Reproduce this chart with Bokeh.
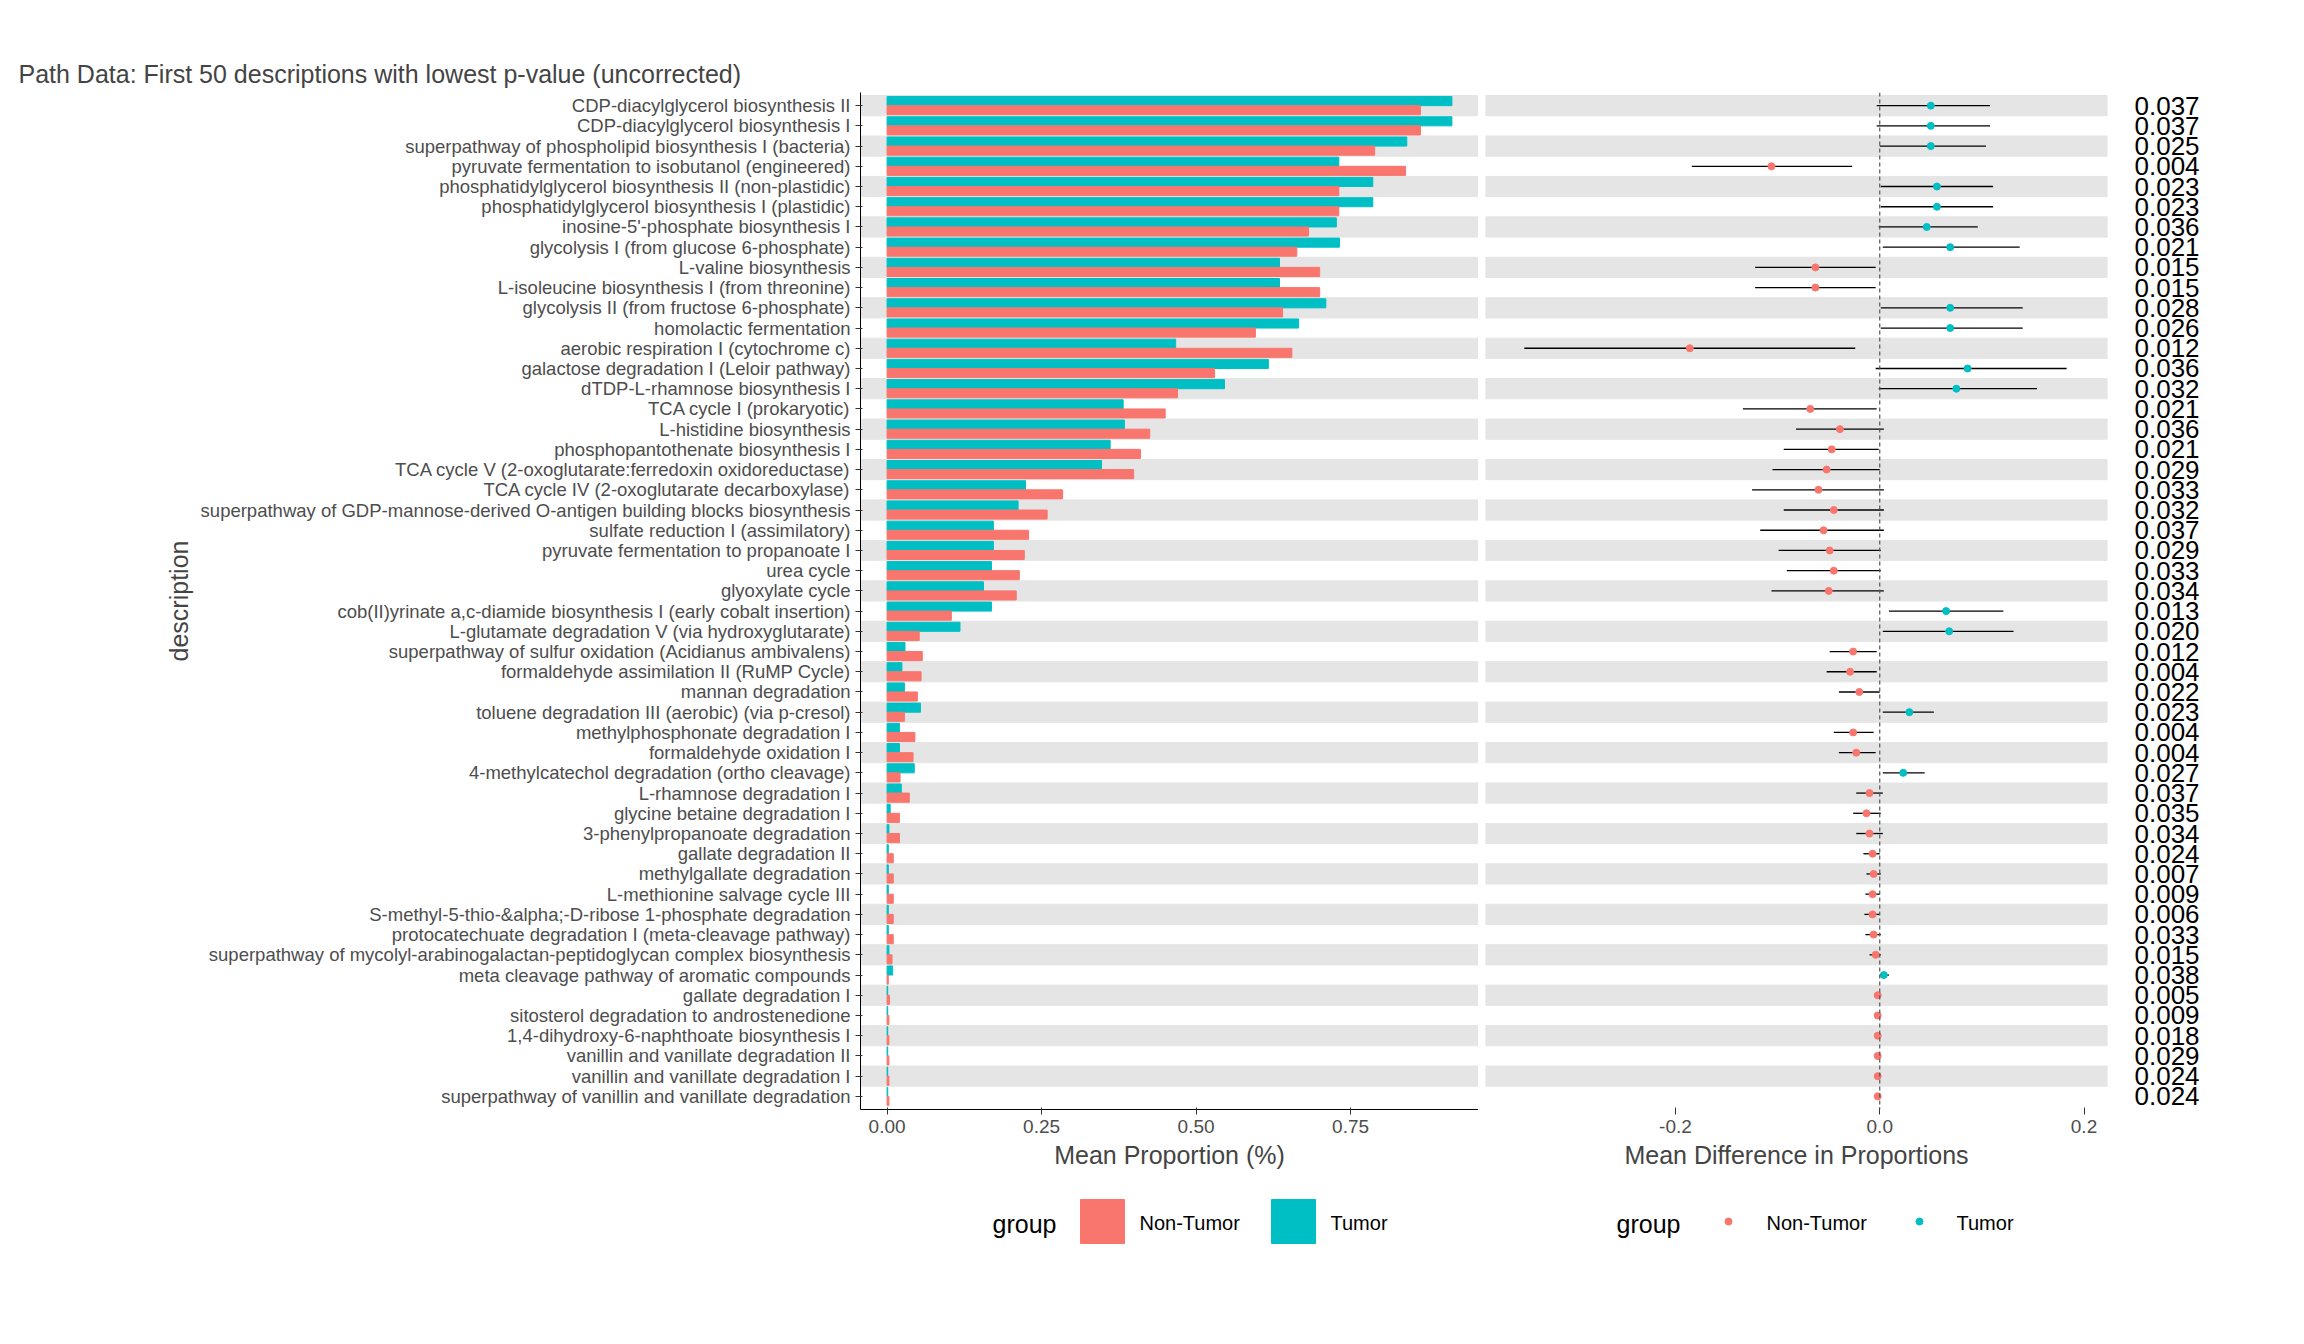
from bokeh.plotting import figure
from bokeh.models import FixedTicker, LinearAxis, Range1d, Span
from bokeh.layouts import column, row
from bokeh.embed import file_html
from bokeh.resources import INLINE

descriptions = [
    "CDP-diacylglycerol biosynthesis II", "CDP-diacylglycerol biosynthesis I",
    "superpathway of phospholipid biosynthesis I (bacteria)", "pyruvate fermentation to isobutanol (engineered)",
    "phosphatidylglycerol biosynthesis II (non-plastidic)", "phosphatidylglycerol biosynthesis I (plastidic)",
    "inosine-5'-phosphate biosynthesis I", "glycolysis I (from glucose 6-phosphate)",
    "L-valine biosynthesis", "L-isoleucine biosynthesis I (from threonine)",
    "glycolysis II (from fructose 6-phosphate)", "homolactic fermentation",
    "aerobic respiration I (cytochrome c)", "galactose degradation I (Leloir pathway)",
    "dTDP-L-rhamnose biosynthesis I", "TCA cycle I (prokaryotic)",
    "L-histidine biosynthesis", "phosphopantothenate biosynthesis I",
    "TCA cycle V (2-oxoglutarate:ferredoxin oxidoreductase)", "TCA cycle IV (2-oxoglutarate decarboxylase)",
    "superpathway of GDP-mannose-derived O-antigen building blocks biosynthesis", "sulfate reduction I (assimilatory)",
    "pyruvate fermentation to propanoate I", "urea cycle", "glyoxylate cycle",
    "cob(II)yrinate a,c-diamide biosynthesis I (early cobalt insertion)",
    "L-glutamate degradation V (via hydroxyglutarate)", "superpathway of sulfur oxidation (Acidianus ambivalens)",
    "formaldehyde assimilation II (RuMP Cycle)", "mannan degradation",
    "toluene degradation III (aerobic) (via p-cresol)", "methylphosphonate degradation I",
    "formaldehyde oxidation I", "4-methylcatechol degradation (ortho cleavage)",
    "L-rhamnose degradation I", "glycine betaine degradation I", "3-phenylpropanoate degradation",
    "gallate degradation II", "methylgallate degradation", "L-methionine salvage cycle III",
    "S-methyl-5-thio-&alpha;-D-ribose 1-phosphate degradation",
    "protocatechuate degradation I (meta-cleavage pathway)",
    "superpathway of mycolyl-arabinogalactan-peptidoglycan complex biosynthesis",
    "meta cleavage pathway of aromatic compounds", "gallate degradation I",
    "sitosterol degradation to androstenedione", "1,4-dihydroxy-6-naphthoate biosynthesis I",
    "vanillin and vanillate degradation II", "vanillin and vanillate degradation I",
    "superpathway of vanillin and vanillate degradation",
]
tumor = [0.914, 0.914, 0.841, 0.731, 0.786, 0.786, 0.727, 0.732, 0.635, 0.635,
         0.710, 0.666, 0.467, 0.617, 0.546, 0.382, 0.384, 0.361, 0.347, 0.224,
         0.212, 0.172, 0.172, 0.169, 0.156, 0.169, 0.118, 0.029, 0.024, 0.028,
         0.054, 0.020, 0.020, 0.044, 0.023, 0.005, 0.003, 0.002, 0.002, 0.002,
         0.002, 0.002, 0.003, 0.009, 0.001, 0.001, 0.001, 0.001, 0.001, 0.001]
non_tumor = [0.863, 0.863, 0.789, 0.839, 0.731, 0.731, 0.682, 0.663, 0.700, 0.700,
             0.640, 0.596, 0.655, 0.530, 0.470, 0.450, 0.425, 0.410, 0.399, 0.284,
             0.259, 0.229, 0.222, 0.214, 0.209, 0.104, 0.052, 0.057, 0.055, 0.049,
             0.028, 0.045, 0.042, 0.021, 0.036, 0.020, 0.020, 0.010, 0.010, 0.010,
             0.010, 0.010, 0.008, 0.002, 0.004, 0.003, 0.003, 0.003, 0.003, 0.003]
diff = [0.050, 0.050, 0.050, -0.106, 0.056, 0.056, 0.046, 0.069, -0.063, -0.063,
        0.069, 0.069, -0.186, 0.086, 0.075, -0.068, -0.039, -0.047, -0.052, -0.060,
        -0.045, -0.055, -0.049, -0.045, -0.050, 0.065, 0.068, -0.026, -0.029, -0.020,
        0.029, -0.026, -0.023, 0.023, -0.010, -0.013, -0.010, -0.007, -0.006, -0.007,
        -0.007, -0.006, -0.004, 0.004, -0.002, -0.002, -0.002, -0.002, -0.002, -0.002]
ci_low = [-0.003, -0.003, 0.000, -0.184, 0.001, 0.001, -0.001, 0.003, -0.122, -0.122,
          0.001, 0.001, -0.348, -0.004, -0.001, -0.134, -0.082, -0.094, -0.105, -0.125,
          -0.094, -0.117, -0.099, -0.091, -0.106, 0.009, 0.003, -0.049, -0.052, -0.040,
          0.003, -0.045, -0.040, 0.003, -0.023, -0.026, -0.023, -0.016, -0.013, -0.014,
          -0.015, -0.014, -0.010, 0.001, -0.004, -0.004, -0.004, -0.004, -0.004, -0.004]
ci_high = [0.108, 0.108, 0.104, -0.027, 0.111, 0.111, 0.096, 0.137, -0.004, -0.004,
           0.140, 0.140, -0.024, 0.183, 0.154, -0.003, 0.004, -0.001, 0.000, 0.004,
           0.004, 0.004, 0.001, 0.001, 0.004, 0.121, 0.131, -0.003, -0.003, 0.000,
           0.053, -0.006, -0.004, 0.044, 0.003, 0.001, 0.003, 0.000, 0.001, 0.000,
           0.000, 0.001, 0.001, 0.009, 0.000, 0.000, 0.000, 0.000, 0.000, 0.000]
p_values = ["0.037", "0.037", "0.025", "0.004", "0.023", "0.023", "0.036", "0.021", "0.015", "0.015",
            "0.028", "0.026", "0.012", "0.036", "0.032", "0.021", "0.036", "0.021", "0.029", "0.033",
            "0.032", "0.037", "0.029", "0.033", "0.034", "0.013", "0.020", "0.012", "0.004", "0.022",
            "0.023", "0.004", "0.004", "0.027", "0.037", "0.035", "0.034", "0.024", "0.007", "0.009",
            "0.006", "0.033", "0.015", "0.038", "0.005", "0.009", "0.018", "0.029", "0.024", "0.024"]

RED, TEAL = "#F8766D", "#00BFC4"
FONT = "Liberation Sans"
n = len(descriptions)
ys = [n - i for i in range(n)]
stripe_y = [y for i, y in enumerate(ys) if i % 2 == 0]
labels = {y: d.replace("&alpha;", "&alpha;") for y, d in zip(ys, descriptions)}
pv_labels = {y: p for y, p in zip(ys, p_values)}
FH = 1017


def style_axes(p):
    for ax in p.axis:
        ax.axis_line_color = "black"
        ax.major_tick_line_color = "#333333"
        ax.minor_tick_line_color = None
        ax.major_label_text_color = "#4D4D4D"
        ax.major_label_text_font = FONT
        ax.major_label_text_font_size = "19px"
        ax.axis_label_text_font = FONT
        ax.axis_label_text_font_size = "25px"
        ax.axis_label_text_font_style = "normal"
        ax.major_tick_out = 5
    p.xgrid.visible = False
    p.ygrid.visible = False
    p.outline_line_color = None


left = figure(frame_width=618, frame_height=FH, output_backend="svg", toolbar_location=None,
              x_range=Range1d(-0.043, 0.957), y_range=Range1d(0.35, n + 0.65),
              min_border_left=860, min_border_right=0, min_border_top=92, min_border_bottom=10,
              x_axis_label="Mean Proportion (%)", y_axis_label="description",
              title="Path Data: First 50 descriptions with lowest p-value (uncorrected)")
left.title.text_font = FONT
left.title.text_font_size = "25px"
left.title.text_font_style = "normal"
left.title.offset = -842
left.hbar(y=stripe_y, left=-0.043, right=0.957, height=1, color="#E5E5E5")
left.hbar(y=[y + 0.225 for y in ys], left=0, right=tumor, height=0.45, color=TEAL)
left.hbar(y=[y - 0.225 for y in ys], left=0, right=non_tumor, height=0.45, color=RED)
left.xaxis.ticker = FixedTicker(ticks=[0, 0.25, 0.5, 0.75])
left.xaxis.major_label_overrides = {0: "0.00", 0.25: "0.25", 0.5: "0.50", 0.75: "0.75"}
left.yaxis.ticker = FixedTicker(ticks=ys)
left.yaxis.major_label_overrides = labels
style_axes(left)
left.yaxis.major_label_text_font_size = "18.5px"

right = figure(frame_width=622, frame_height=FH, output_backend="svg", toolbar_location=None,
               x_range=Range1d(-0.386, 0.223), y_range=Range1d(0.35, n + 0.65),
               min_border_left=7, min_border_right=40, min_border_top=92, min_border_bottom=10,
               x_axis_label="Mean Difference in Proportions", y_axis_location=None)
right.hbar(y=stripe_y, left=-0.386, right=0.223, height=1, color="#E5E5E5")
right.add_layout(Span(location=0, dimension="height", line_color="#555555", line_dash="4 3", line_width=1.2))
colors = [TEAL if d > 0 else RED for d in diff]
right.segment(x0=ci_low, y0=ys, x1=ci_high, y1=ys, line_color="black", line_width=1.3)
right.scatter(x=diff, y=ys, size=7, color=colors)
right.xaxis.ticker = FixedTicker(ticks=[-0.2, 0, 0.2])
right.xaxis.major_label_overrides = {-0.2: "-0.2", 0: "0.0", 0.2: "0.2"}
pax = LinearAxis(ticker=FixedTicker(ticks=ys), major_label_overrides=pv_labels)
right.add_layout(pax, "right")
style_axes(right)
right.xaxis.axis_line_color = None
pax.axis_line_color = None
pax.major_tick_line_color = None
pax.major_label_text_color = "black"
pax.major_label_text_font_size = "26px"
pax.major_label_standoff = 22

leg = figure(width=2288, height=100, output_backend="svg", toolbar_location=None,
             x_range=Range1d(0, 2288), y_range=Range1d(0, 100), min_border=0)
leg.axis.visible = False
leg.grid.visible = False
leg.outline_line_color = None
leg.text(x=[992, 1616], y=[48, 48], text=["group", "group"], text_font_size="25px",
         text_baseline="middle", text_font=FONT_VAL if False else None) if False else None
from bokeh.core.properties import value
leg.text(x=[992, 1616], y=[48, 48], text=["group", "group"], text_font_size="25px",
         text_baseline="middle", text_font=value(FONT))
leg.rect(x=[1102, 1293], y=[50, 50], width=44, height=44, color=[RED, TEAL])
leg.scatter(x=[1728, 1919], y=[50, 50], size=7, color=[RED, TEAL])
leg.text(x=[1139, 1330, 1766, 1956], y=[49, 49, 49, 49], text=["Non-Tumor", "Tumor", "Non-Tumor", "Tumor"],
         text_font_size="20px", text_baseline="middle", text_font=value(FONT))

layout = column(row(left, right), leg)
open("out.html", "w").write(file_html(layout, INLINE))
